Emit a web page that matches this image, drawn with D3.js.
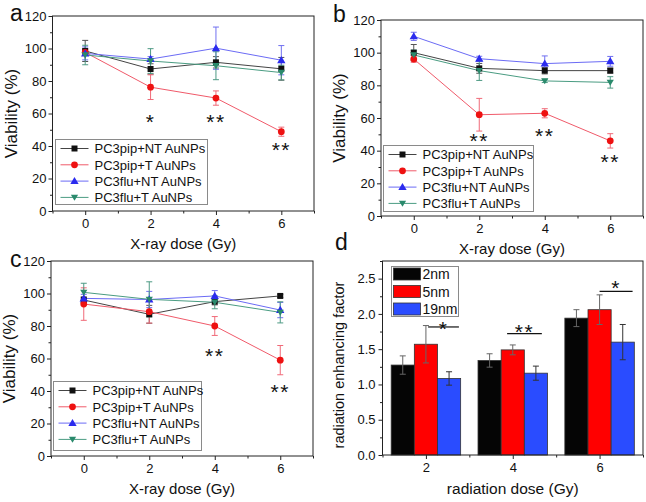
<!DOCTYPE html>
<html><head><meta charset="utf-8">
<script src="https://cdn.jsdelivr.net/npm/d3@7"></script>
<style>
body{margin:0;background:#fff;}
text{font-family:"Liberation Sans",Arial,sans-serif;}
</style></head>
<body>
<svg id="chart" width="646" height="502"></svg>
<script>
// ---------- DATA ----------
const doses = [0, 2, 4, 6];
const seriesNames = ["PC3pip+NT AuNPs", "PC3pip+T AuNPs", "PC3flu+NT AuNPs", "PC3flu+T AuNPs"];
const viabilityTicks = [0, 20, 40, 60, 80, 100, 120];
const doseTicks = [0, 2, 4, 6];

// panel a
const aPipNT = [98.5, 87.4, 91.5, 87.5];
const aPipNTErr = [6.5, 3.2, 3.5, 7];
const aPipT = [97.6, 76.2, 69.5, 48.8];
const aPipTErr = [2, 7.6, 4.4, 2.8];
const aFluNT = [97, 93.5, 100.2, 92.8];
const aFluNTErr = [4, 1.5, 13, 9];
const aFluT = [96, 92.3, 89.4, 85.2];
const aFluTErr = [6, 7.6, 8.6, 4.5];
const aStarLabels = ["*", "**", "**"];
const aStarX = [2, 4, 6];
const aStarY = [58, 58, 41];

// panel b
const bPipNT = [100, 90.4, 89, 89];
const bPipNTErr = [5, 3, 2, 1.5];
const bPipT = [96.1, 62, 62.9, 46];
const bPipTErr = [2, 10, 2.8, 4.4];
const bFluNT = [110, 96.3, 93.3, 94.7];
const bFluNTErr = [2.5, 1.5, 4.7, 3];
const bFluT = [98.6, 89, 82.7, 81.8];
const bFluTErr = [3, 6, 1, 3.5];
const bStarLabels = ["**", "**", "**"];
const bStarX = [2, 4, 6];
const bStarY = [49.5, 52.7, 36.3];

// panel c
const cPipNT = [96, 87.2, 95, 98.5];
const cPipNTErr = [2, 5.5, 2, 1];
const cPipT = [93.5, 88.8, 80, 59];
const cPipTErr = [10, 7, 5.8, 9];
const cFluNT = [97, 96.3, 98.5, 89.8];
const cFluNTErr = [2.5, 5, 3.3, 4.7];
const cFluT = [100.7, 96.4, 94.6, 88.4];
const cFluTErr = [5.6, 10.8, 4, 6.5];
const cStarLabels = ["**", "**"];
const cStarX = [4, 6];
const cStarY = [65.2, 42.6];

// panel d
const radDoses = [2, 4, 6];
const sizeNames = ["2nm", "5nm", "19nm"];
const rf2nm = [1.275, 1.34, 1.94];
const rf2nmErr = [0.13, 0.095, 0.12];
const rf5nm = [1.57, 1.49, 2.06];
const rf5nmErr = [0.265, 0.07, 0.21];
const rf19nm = [1.085, 1.16, 1.60];
const rf19nmErr = [0.095, 0.1, 0.25];
const rfTicks = [0, 0.5, 1.0, 1.5, 2.0, 2.5];
const sigX1 = [2.05, 3.87, 6.0];
const sigX2 = [2.76, 4.67, 6.76];
const sigY = [1.815, 1.72, 2.32];
const sigLabels = ["*", "**", "*"];
const sigStarY = [1.87, 1.82, 2.44];

// ---------- STYLE ----------
const markerColors = ["#111111", "#ee1111", "#2b2bee", "#2a8a6c"];
const lineColors = ["#444444", "#f05a6a", "#6b6bf5", "#4a9c82"];
const errColors = ["#555555", "#f06a78", "#7070f0", "#4e9a84"];
const markerShapes = [d3.symbolSquare, d3.symbolCircle, d3.symbolTriangle, "down"];
const barColors = ["#050505", "#ff0000", "#2a4cff"];

const svg = d3.select("#chart");
const FONT = "'Liberation Sans', Arial, sans-serif";

function marker(g, shape, color, cx, cy) {
  if (shape === "down") {
    const s = 3.6;
    g.append("path")
      .attr("d", `M${cx - s},${cy - s * 0.75}L${cx + s},${cy - s * 0.75}L${cx},${cy + s * 0.95}Z`)
      .attr("fill", color);
  } else {
    const size = shape === d3.symbolSquare ? 36 : (shape === d3.symbolCircle ? 36 : 30);
    g.append("path")
      .attr("d", d3.symbol().type(shape).size(size)())
      .attr("transform", `translate(${cx},${shape === d3.symbolTriangle ? cy + 0.6 : cy})`)
      .attr("fill", color);
  }
}

function star(g, label, cx, cy) {
  const fs = 21;
  g.append("text").attr("x", cx).attr("y", cy + 0.6 * fs)
    .attr("text-anchor", "middle").attr("font-size", fs).attr("fill", "#111")
    .attr("letter-spacing", "1.5px")
    .text(label);
}

function styleAxis(g) {
  g.selectAll("path.domain").remove();
  g.selectAll("line").attr("stroke", "#222");
  g.selectAll("text").attr("font-family", FONT).attr("fill", "#111");
}

function linePanel(box, series, errs, starLabels, starX, starY, legendBox, letter) {
  const g = svg.append("g");
  const x = d3.scaleLinear().domain([-1, 7]).range([box.l, box.r]);
  const y = d3.scaleLinear().domain([0, 120]).range([box.b, box.t]);

  // minor ticks
  const minorX = g.append("g").attr("transform", `translate(0,${box.b})`)
    .call(d3.axisBottom(x).tickValues([-1, 1, 3, 5, 7]).tickSize(2.5).tickFormat(""));
  styleAxis(minorX);
  const minorY = g.append("g").attr("transform", `translate(${box.l},0)`)
    .call(d3.axisLeft(y).tickValues([10, 30, 50, 70, 90, 110]).tickSize(2.5).tickFormat(""));
  styleAxis(minorY);
  const ax = g.append("g").attr("transform", `translate(0,${box.b})`)
    .call(d3.axisBottom(x).tickValues(doseTicks).tickSize(4).tickPadding(4).tickFormat(d3.format("d")));
  styleAxis(ax);
  ax.selectAll("text").attr("font-size", 13);
  const ay = g.append("g").attr("transform", `translate(${box.l},0)`)
    .call(d3.axisLeft(y).tickValues(viabilityTicks).tickSize(4).tickPadding(2));
  styleAxis(ay);
  ay.selectAll("text").attr("font-size", 13);

  g.append("rect").attr("x", box.l).attr("y", box.t)
    .attr("width", box.r - box.l).attr("height", box.b - box.t)
    .attr("fill", "none").attr("stroke", "#222").attr("stroke-width", 1);

  // series
  series.forEach((vals, si) => {
    const line = d3.line().x((d, i) => x(doses[i])).y(d => y(d));
    g.append("path").datum(vals).attr("d", line)
      .attr("fill", "none").attr("stroke", lineColors[si]).attr("stroke-width", 1);
  });
  series.forEach((vals, si) => {
    vals.forEach((v, i) => {
      const cx = x(doses[i]);
      const e = errs[si][i];
      const y1 = y(v + e), y2 = y(v - e);
      g.append("line").attr("x1", cx).attr("x2", cx).attr("y1", y1).attr("y2", y2)
        .attr("stroke", errColors[si]).attr("stroke-width", 1);
      [y1, y2].forEach(yy => g.append("line").attr("x1", cx - 3).attr("x2", cx + 3)
        .attr("y1", yy).attr("y2", yy).attr("stroke", errColors[si]).attr("stroke-width", 1));
    });
  });
  series.forEach((vals, si) => {
    vals.forEach((v, i) => marker(g, markerShapes[si], markerColors[si], x(doses[i]), y(v)));
  });

  starLabels.forEach((s, i) => star(g, s, x(starX[i]), y(starY[i])));

  // legend
  const lg = g.append("g");
  lg.append("rect").attr("x", legendBox.x).attr("y", legendBox.y)
    .attr("width", legendBox.w).attr("height", legendBox.h)
    .attr("fill", "#fff").attr("stroke", "#8a8a8a").attr("stroke-width", 1);
  seriesNames.forEach((name, si) => {
    const ry = legendBox.y + 9 + si * legendBox.step;
    const lx = legendBox.x + 5;
    lg.append("line").attr("x1", lx).attr("x2", lx + 28).attr("y1", ry).attr("y2", ry)
      .attr("stroke", lineColors[si]).attr("stroke-width", 1);
    marker(lg, markerShapes[si], markerColors[si], lx + 14, ry);
    lg.append("text").attr("x", lx + 34).attr("y", ry + 4.7)
      .attr("font-size", 13).attr("fill", "#111").text(name);
  });

  // titles
  g.append("text").attr("x", (box.l + box.r) / 2).attr("y", box.b + 37.5)
    .attr("text-anchor", "middle").attr("font-size", 15).attr("fill", "#111")
    .text("X-ray dose (Gy)");
  g.append("text").attr("transform", `translate(${box.l - 36},${(box.t + box.b) / 2}) rotate(-90)`)
    .attr("text-anchor", "middle").attr("font-size", 17).attr("fill", "#111")
    .text("Viability (%)");
  g.append("text").attr("x", letter.x).attr("y", letter.y)
    .attr("font-size", 23).attr("fill", "#111").text(letter.t);
}

linePanel({l: 52.5, r: 314, t: 16, b: 211},
  [aPipNT, aPipT, aFluNT, aFluT], [aPipNTErr, aPipTErr, aFluNTErr, aFluTErr],
  aStarLabels, aStarX, aStarY,
  {x: 55.5, y: 139.5, w: 152, h: 65, step: 16.3}, {x: 10, y: 21, t: "a"});

linePanel({l: 381, r: 643, t: 20, b: 216},
  [bPipNT, bPipT, bFluNT, bFluT], [bPipNTErr, bPipTErr, bFluNTErr, bFluTErr],
  bStarLabels, bStarX, bStarY,
  {x: 383.5, y: 145.5, w: 150, h: 66, step: 16.3}, {x: 333, y: 21.5, t: "b"});

linePanel({l: 51, r: 313, t: 261, b: 456},
  [cPipNT, cPipT, cFluNT, cFluT], [cPipNTErr, cPipTErr, cFluNTErr, cFluTErr],
  cStarLabels, cStarX, cStarY,
  {x: 53.5, y: 381.5, w: 148, h: 69, step: 16.3}, {x: 10, y: 267, t: "c"});

// ---------- PANEL D ----------
(function () {
  const box = {l: 382.5, r: 643, t: 261, b: 455};
  const g = svg.append("g");
  const x = d3.scaleLinear().domain([1, 7]).range([box.l, box.r]);
  const y = d3.scaleLinear().domain([0, 2.75]).range([box.b, box.t]);
  const groups = [rf2nm, rf5nm, rf19nm];
  const groupErrs = [rf2nmErr, rf5nmErr, rf19nmErr];
  const bw = (x(3) - x(1)) * 0.8 / 3;

  const minorX = g.append("g").attr("transform", `translate(0,${box.b})`)
    .call(d3.axisBottom(x).tickValues([1, 3, 5, 7]).tickSize(2.5).tickFormat(""));
  styleAxis(minorX);
  const minorY = g.append("g").attr("transform", `translate(${box.l},0)`)
    .call(d3.axisLeft(y).tickValues([0.25, 0.75, 1.25, 1.75, 2.25, 2.75]).tickSize(2.5).tickFormat(""));
  styleAxis(minorY);
  const ax = g.append("g").attr("transform", `translate(0,${box.b})`)
    .call(d3.axisBottom(x).tickValues(radDoses).tickSize(4).tickPadding(4).tickFormat(d3.format("d")));
  styleAxis(ax);
  ax.selectAll("text").attr("font-size", 13);
  const ay = g.append("g").attr("transform", `translate(${box.l},0)`)
    .call(d3.axisLeft(y).tickValues(rfTicks).tickSize(4).tickPadding(3).tickFormat(d3.format(".1f")));
  styleAxis(ay);
  ay.selectAll("text").attr("font-size", 13);

  groups.forEach((vals, si) => {
    vals.forEach((v, i) => {
      const cx = x(radDoses[i]) + (si - 1) * bw;
      g.append("rect").attr("x", cx - bw / 2).attr("y", y(v))
        .attr("width", bw).attr("height", y(0) - y(v))
        .attr("fill", barColors[si]).attr("stroke", "#333").attr("stroke-width", 0.8);
    });
  });
  groups.forEach((vals, si) => {
    vals.forEach((v, i) => {
      const cx = x(radDoses[i]) + (si - 1) * bw;
      const e = groupErrs[si][i];
      const y1 = y(v + e), y2 = y(v - e);
      const col = si === 2 ? "#333" : "#666";
      g.append("line").attr("x1", cx).attr("x2", cx).attr("y1", y1).attr("y2", y2)
        .attr("stroke", col).attr("stroke-width", 1);
      [y1, y2].forEach(yy => g.append("line").attr("x1", cx - 3).attr("x2", cx + 3)
        .attr("y1", yy).attr("y2", yy).attr("stroke", col).attr("stroke-width", 1));
    });
  });

  g.append("rect").attr("x", box.l).attr("y", box.t)
    .attr("width", box.r - box.l).attr("height", box.b - box.t)
    .attr("fill", "none").attr("stroke", "#222").attr("stroke-width", 1);

  sigLabels.forEach((s, i) => {
    g.append("line").attr("x1", x(sigX1[i])).attr("x2", x(sigX2[i]))
      .attr("y1", y(sigY[i])).attr("y2", y(sigY[i])).attr("stroke", "#111").attr("stroke-width", 1.2);
    star(g, s, (x(sigX1[i]) + x(sigX2[i])) / 2, y(sigStarY[i]));
  });

  const lg = g.append("g");
  lg.append("rect").attr("x", 391.5).attr("y", 266.5).attr("width", 67).attr("height", 50)
    .attr("fill", "#fff").attr("stroke", "#8a8a8a").attr("stroke-width", 1);
  sizeNames.forEach((n, si) => {
    const ry = 274 + si * 17.5;
    lg.append("rect").attr("x", 393.5).attr("y", ry - 6).attr("width", 27).attr("height", 12)
      .attr("fill", barColors[si]).attr("stroke", "#333").attr("stroke-width", 0.8);
    lg.append("text").attr("x", 422.5).attr("y", ry + 5).attr("font-size", 14)
      .attr("fill", "#111").text(n);
  });

  g.append("text").attr("x", (box.l + box.r) / 2).attr("y", 494)
    .attr("text-anchor", "middle").attr("font-size", 15.5).attr("fill", "#111")
    .text("radiation dose (Gy)");
  g.append("text").attr("transform", `translate(344,365) rotate(-90)`)
    .attr("text-anchor", "middle").attr("font-size", 14.5).attr("fill", "#111")
    .text("radiation enhancing factor");
  g.append("text").attr("x", 335).attr("y", 250)
    .attr("font-size", 23).attr("fill", "#111").text("d");
})();
</script>
</body></html>
